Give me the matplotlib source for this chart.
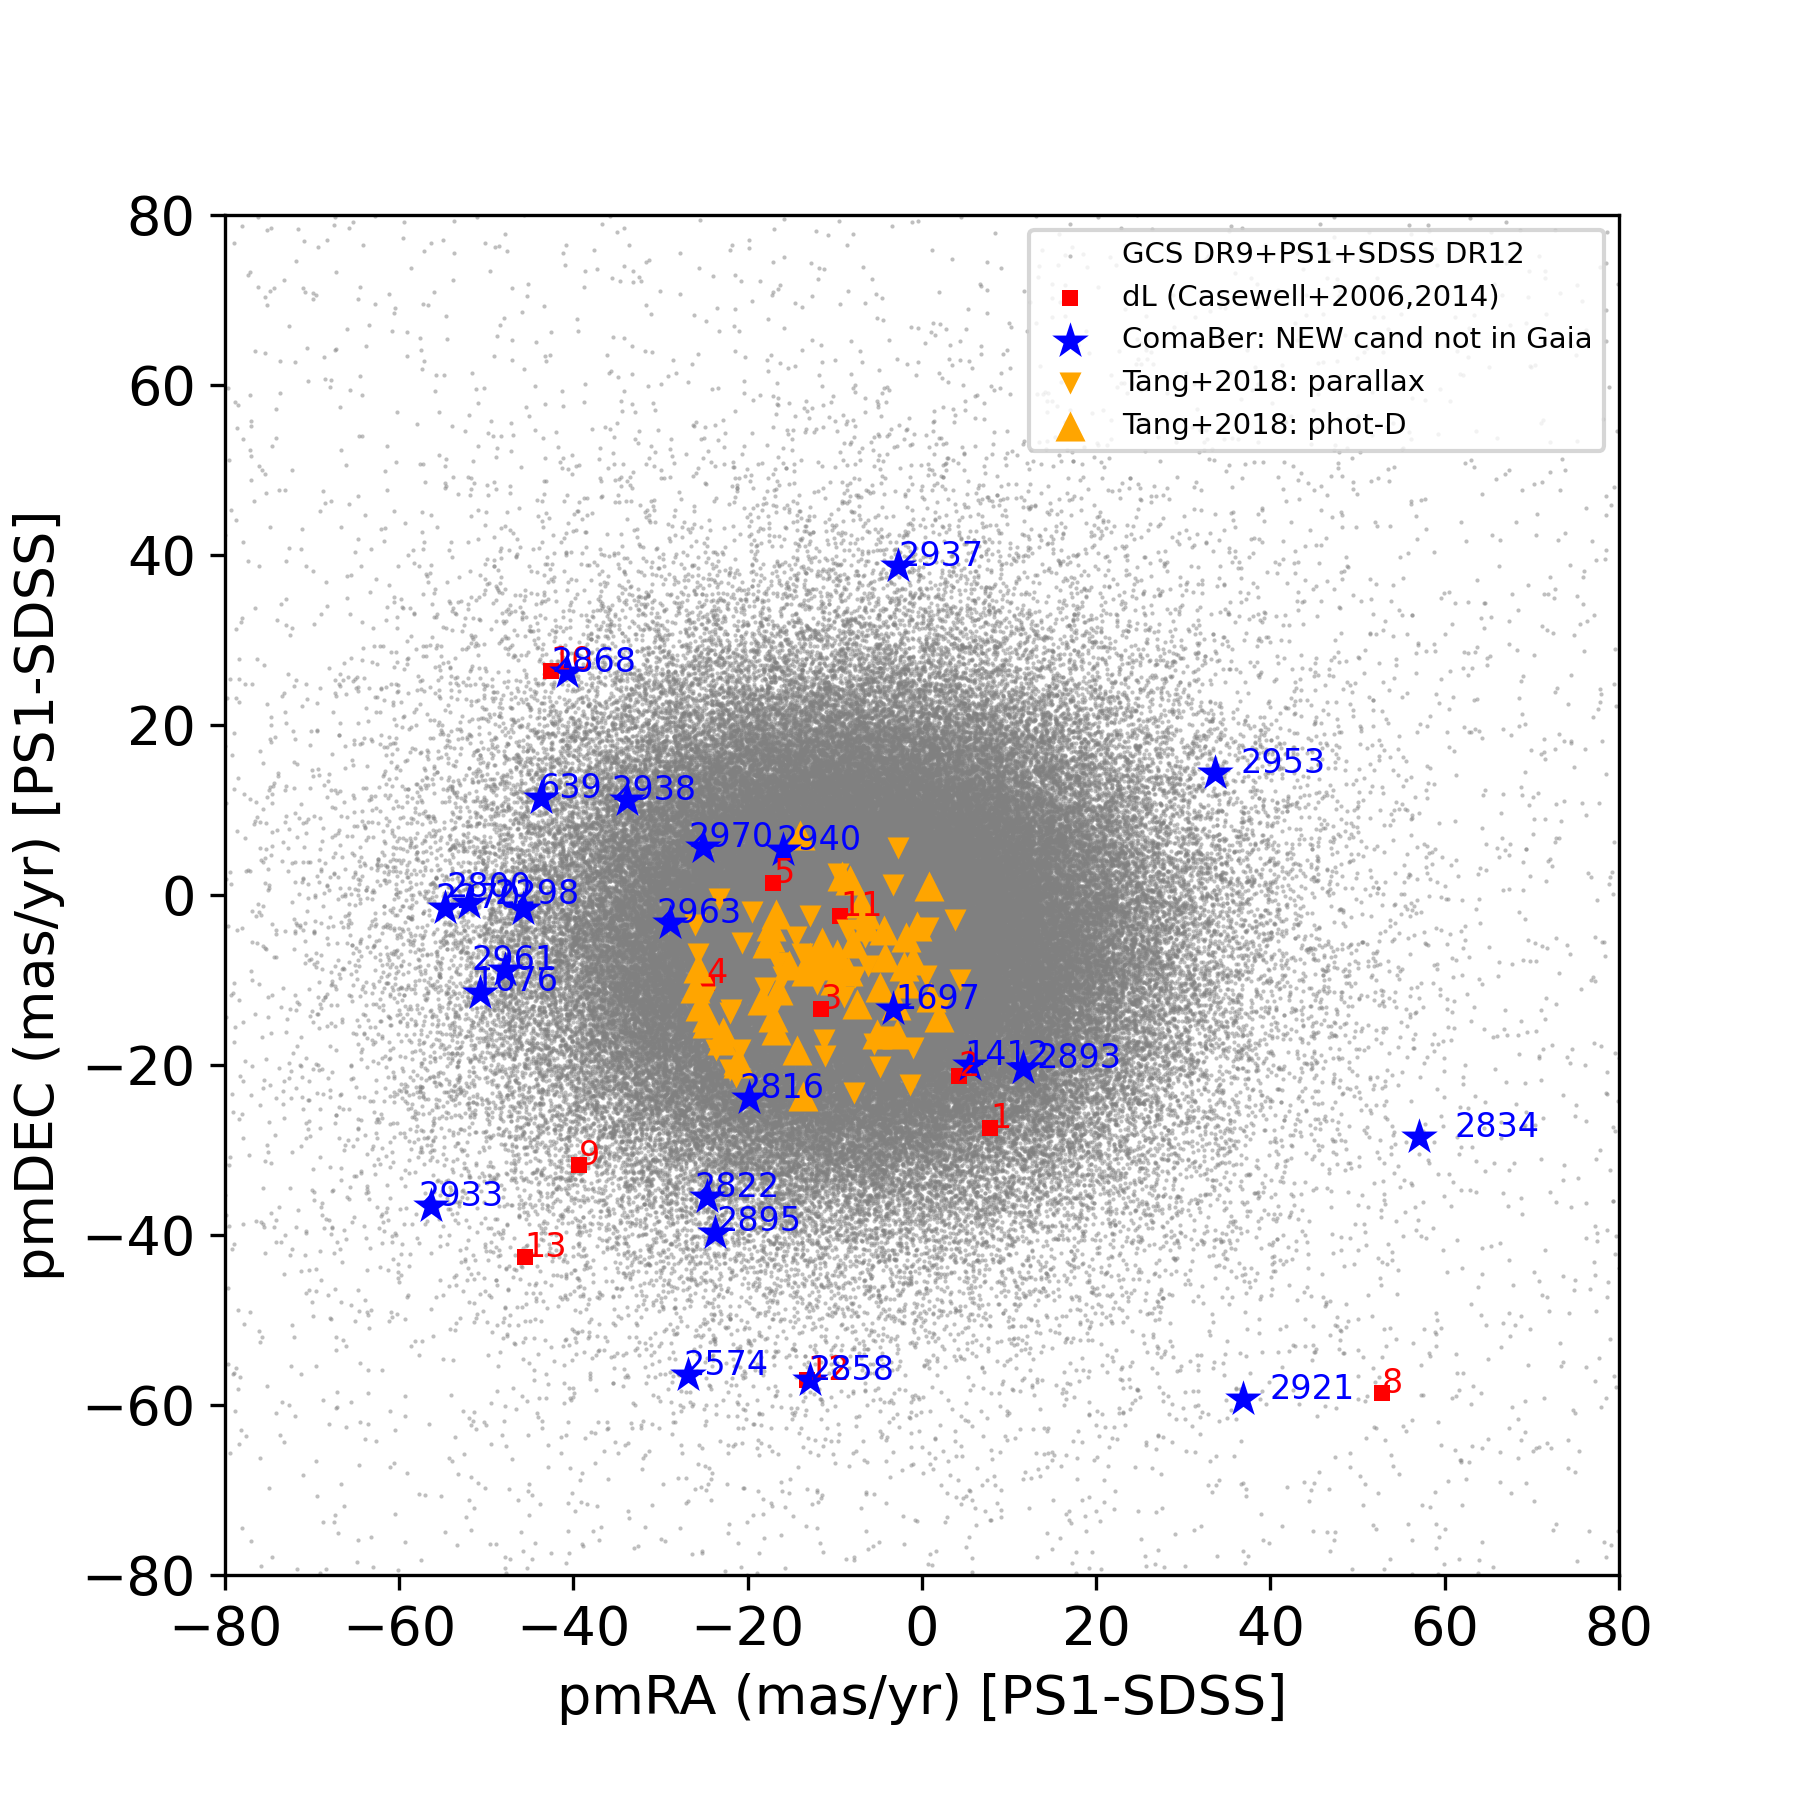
import numpy as np
import matplotlib
matplotlib.use("Agg")
import matplotlib.pyplot as plt

# ComaBer new candidates (blue stars): label, pmRA, pmDEC
star_ids = ["2937", "2868", "2953", "639", "2938", "2970", "2940", "2963",
            "2270", "2800", "2298", "2961", "1676", "1697", "1412", "2893",
            "2816", "2834", "2933", "2822", "2895", "2574", "2858", "2921"]
star_pmra = [-2.7, -40.8, 33.6, -43.7, -33.9, -25.1, -15.9, -28.9,
             -54.8, -52.0, -45.8, -47.9, -50.7, -3.3, 5.5, 11.6,
             -19.9, 57.1, -56.3, -24.7, -23.8, -26.8, -12.9, 36.9]
star_pmdec = [38.7, 26.2, 14.4, 11.4, 11.2, 5.7, 5.3, -3.3,
              -1.5, -1.0, -1.6, -8.8, -11.5, -13.4, -20.0, -20.3,
              -23.9, -28.5, -36.6, -35.5, -39.8, -56.5, -57.1, -59.3]
# shift of each text label from its star (mas/yr)
star_label_dx = [0.0, -1.7, 3.0, -0.3, -1.7, -1.7, -0.8, -1.6,
                 -1.0, -2.6, -3.3, -3.8, -0.8, 0.2, -0.6, 1.6,
                 -1.0, 4.0, -1.5, -1.4, 0.2, -0.6, 0.0, 3.0]
star_label_dy = [0.0, 0.0, 0.0, 0.0, 0.0, 0.0, 0.0, 0.0,
                 0.0, 0.8, 0.5, 0.0, 0.2, 0.0, 0.0, 0.0,
                 0.0, 0.0, 0.0, 0.0, 0.3, 0.0, 0.0, 0.0]

# dL members (Casewell+2006,2014): red squares
dl_ids = ["1", "2", "3", "4", "5", "8", "9", "10", "11", "12", "13"]
dl_pmra = [7.8, 4.2, -11.6, -24.7, -17.1, 52.8, -39.4, -42.6, -9.4, -13.2, -45.6]
dl_pmdec = [-27.4, -21.3, -13.4, -10.4, 1.4, -58.6, -31.8, 26.3, -2.5, -57.1, -42.6]

# Tang+2018 members with parallax (down triangles)
tang_plx_pmra = [-2.7, -3.3, 3.8, 0.7, -20.6, -23.3, -25.7, 4.4, -12.9, -11.3,
                 -11.1, -4.8, -1.4, -7.8, -7.7, -21.9, -23.6, -22.0, -17.3, -15.9,
                 -9.6, -8.6, -3.7, 2.1, -24.9, -22.0, -20.9, -21.3, -6.2, -13.8,
                 -10.5, -12.0, -14.5, -9.0, -16.5, -5.5, -18.0, -6.5,
                 -19.5, -1.0, -26.0, 0.5]
tang_plx_pmdec = [5.5, 1.2, -3.0, -3.9, -5.7, -0.5, -7.0, -10.0, -2.5, -17.1,
                  -19.0, -20.2, -22.4, -23.3, -9.6, -13.5, -18.2, -20.6, -13.9, -9.6,
                  2.5, -4.1, -16.7, -13.3, -12.0, -13.9, -18.2, -21.4, -8.4, -7.0,
                  -8.8, -10.5, -5.0, -12.0, -8.0, -17.5, -11.0, -5.0,
                  -2.0, -18.0, -3.5, -9.5]

# Tang+2018 members with photometric distance (up triangles)
tang_phot_pmra = [-14.0, -9.2, -8.3, 0.8, -16.7, -25.7, -17.4, -12.9, -11.3, -9.8,
                  -6.4, -7.9, -4.4, -1.8, -1.0, -4.2, -4.8, -7.5, -1.8, 1.9,
                  -2.9, -5.2, -16.7, -14.4, -13.6, -18.4, -17.8, -25.5, -24.7, -23.0,
                  -21.1, -10.5, -12.0, -15.3, -13.3, -16.5, -6.4, -2.1, -0.6, -17.3,
                  -24.7, -22.8, -21.1, -17.1, -10.0, -11.5, -8.5,
                  -7.0, -3.0, 1.0, -26.0]
tang_phot_pmdec = [7.1, 2.2, 1.8, 1.0, -2.2, -8.6, -4.9, -7.3, -7.6, -6.9,
                   -3.7, -5.7, -4.1, -4.9, -7.6, -7.3, -10.8, -12.8, -10.4, -14.3,
                   -16.3, -16.3, -15.9, -18.2, -23.7, -12.4, -5.7, -13.1, -15.1, -17.1,
                   -19.4, -7.6, -8.2, -8.2, -9.0, -11.2, -2.2, -8.4, -3.7, -3.7,
                   -14.3, -16.1, -19.8, -14.3, -10.0, -5.5, -9.0,
                   -1.0, -13.0, -12.0, -11.0]

# GCS DR9+PS1+SDSS DR12 field stars: the catalogue itself is not recoverable
# from the picture, so a stand-in cloud is drawn with the centre and spreads read off it
field_center = (-8.0, -5.0)
field_core_n, field_core_sigma = 160000, (15.5, 13.0)
field_halo_n, field_halo_sigma = 35000, (26.0, 23.0)
field_flat_n = 3000

rng = np.random.default_rng(2018)
core = rng.normal(field_center, field_core_sigma, size=(field_core_n, 2))
halo = rng.normal(field_center, field_halo_sigma, size=(field_halo_n, 2))
flat = rng.uniform(-80, 80, size=(field_flat_n, 2))
field = np.vstack([core, halo, flat])

plt.rcParams["font.family"] = ["DejaVu Sans"]
plt.rcParams["font.size"] = 13

fig = plt.figure(figsize=(6, 6), dpi=300)
ax = fig.add_axes([0.125, 0.125, 0.7744, 0.7556])

ax.scatter(field[:, 0], field[:, 1], s=1, c="gray", alpha=0.5, linewidths=0,
           label="GCS DR9+PS1+SDSS DR12", zorder=1)
ax.scatter(dl_pmra, dl_pmdec, s=14, marker="s", c="red", linewidths=0,
           label="dL (Casewell+2006,2014)", zorder=2)
ax.scatter(star_pmra, star_pmdec, s=85, marker="*", c="blue", linewidths=0,
           label="ComaBer: NEW cand not in Gaia", zorder=2.6)
ax.scatter(tang_plx_pmra, tang_plx_pmdec, s=28, marker="v", c="orange", linewidths=0,
           label="Tang+2018: parallax", zorder=2.2)
ax.scatter(tang_phot_pmra, tang_phot_pmdec, s=52, marker="^", c="orange", linewidths=0,
           label="Tang+2018: phot-D", zorder=2.2)

for name, x, y in zip(dl_ids, dl_pmra, dl_pmdec):
    ax.text(x, y, name, color="red", fontsize=8, zorder=3)
for name, x, y, dx, dy in zip(star_ids, star_pmra, star_pmdec, star_label_dx, star_label_dy):
    ax.text(x + dx, y + dy, name, color="blue", fontsize=8, zorder=3)

ax.set_xlim(-80, 80)
ax.set_ylim(-80, 80)
ax.set_xlabel("pmRA (mas/yr) [PS1-SDSS]")
ax.set_ylabel("pmDEC (mas/yr) [PS1-SDSS]")

ax.legend(loc="upper right", fontsize=7)

fig.savefig("out.png", dpi=300)
